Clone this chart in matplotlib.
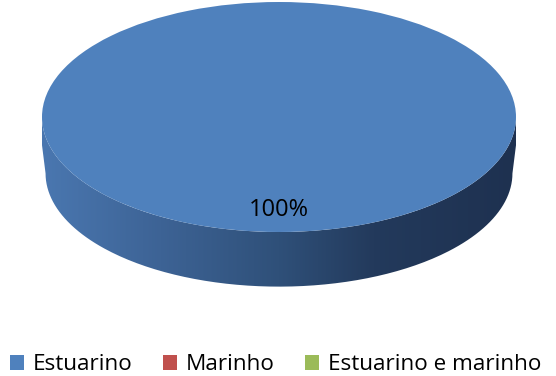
import numpy as np
import matplotlib
matplotlib.use('Agg')
import matplotlib.pyplot as plt
from matplotlib.path import Path
from matplotlib.patches import PathPatch, Patch
from matplotlib.colors import LinearSegmentedColormap

categories = ['Estuarino', 'Marinho', 'Estuarino e marinho']
values = [100, 0, 0]
colors = ['#4f81bd', '#c0504d', '#9bbb59']

W, H = 556, 376
fig = plt.figure(figsize=(W / 100, H / 100), dpi=100)
ax = fig.add_axes([0, 0, 1, 1])

def pct(p):
    return f'{p:.0f}%' if p > 0 else ''

wedges, texts, autotexts = ax.pie(
    values, colors=colors, radius=1, startangle=90, counterclock=False,
    autopct=pct, pctdistance=0.81,
    wedgeprops=dict(linewidth=0), textprops=dict(fontsize=17, family='Open Sans'))
for w in wedges:
    w.set_zorder(3)
for t in autotexts:
    t.set_zorder(5)

# 3D side band under the top face (visible lower half of the pie)
depth = 0.49
shrink = 0.985
t = np.linspace(np.pi, 2 * np.pi, 200)
top = np.column_stack([np.cos(t), np.sin(t)])
bot = np.column_stack([shrink * np.cos(t[::-1]), shrink * np.sin(t[::-1]) - depth])
verts = np.vstack([[-1, 0.02], top, [1, 0.02], [1, -depth * 0.5], bot, [-1, -depth * 0.5], [-1, 0.02]])
side = PathPatch(Path(verts), facecolor='none', edgecolor='none')
ax.add_patch(side)
cmap = LinearSegmentedColormap.from_list('side', [
    (0.0, '#4a77b0'), (0.25, '#3d6395'), (0.5, '#2f5079'),
    (0.7, '#233a5c'), (1.0, '#1e3150')])
grad = np.linspace(0, 1, 256).reshape(1, -1)
im = ax.imshow(grad, cmap=cmap, aspect='auto', extent=[-1, 1, -1 - depth, 0.05],
               zorder=1, interpolation='bilinear')
im.set_clip_path(side)

ax.set_aspect('auto')
a_px, b_px, cx, cy = 237, 115, 279, 117
ax.set_xlim(-cx / a_px, (W - cx) / a_px)
ax.set_ylim((cy - H) / b_px, cy / b_px)
ax.axis('off')

handles = [Patch(facecolor=c, edgecolor='none') for c in colors]
fig.legend(handles, categories, loc='center left', bbox_to_anchor=(10 / W, 1 - 365 / H),
           ncol=3, frameon=False, handlelength=0.6, handleheight=0.6,
           handletextpad=0.42, columnspacing=1.35, borderaxespad=0, borderpad=0,
           prop=dict(family='Open Sans', size=16.2))

fig.savefig('out.png', dpi=100)
